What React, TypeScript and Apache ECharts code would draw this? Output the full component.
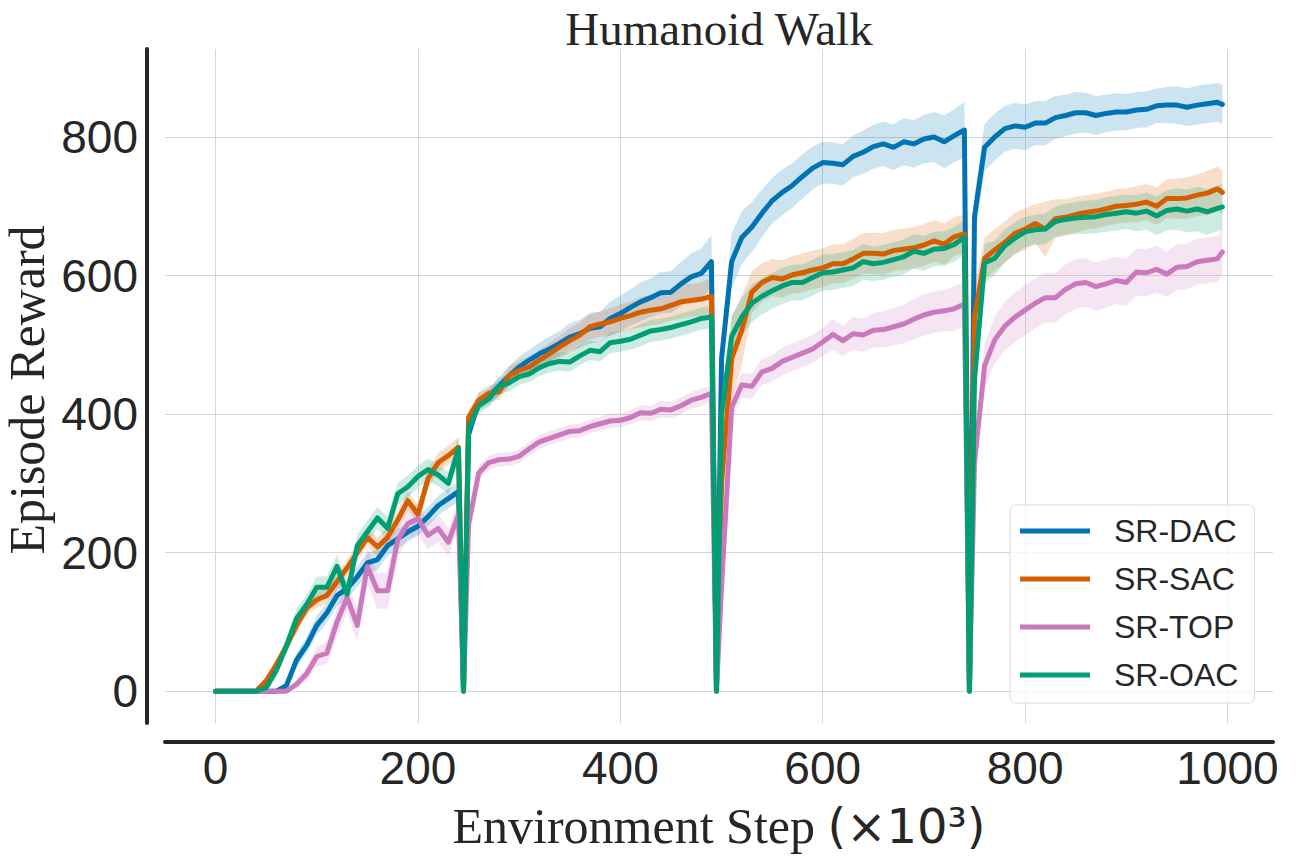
import React, { useEffect, useRef } from "react";
import * as echarts from "echarts";

const steps = [
  0, 10, 20, 30, 40, 50, 60, 70, 80, 90, 100, 110, 120, 130, 140, 150, 160, 170, 180, 190, 200, 210, 220, 230, 240, 245,
  250, 260, 270, 280, 290, 300, 310, 320, 330, 340, 350, 360, 370, 380, 390, 400, 410, 420, 430, 440, 450, 460, 470, 480, 490, 495,
  500, 510, 520, 530, 540, 550, 560, 570, 580, 590, 600, 610, 620, 630, 640, 650, 660, 670, 680, 690, 700, 710, 720, 730, 740, 745,
  750, 760, 770, 780, 790, 800, 810, 820, 830, 840, 850, 860, 870, 880, 890, 900, 910, 920, 930, 940, 950, 960, 970, 980, 990, 995,
];

const xTicks = [0, 200, 400, 600, 800, 1000];
const yTicks = [0, 200, 400, 600, 800];

const names = ["SR-DAC", "SR-SAC", "SR-TOP", "SR-OAC"];
const colors = ["#0173b2", "#d55e00", "#cc78bc", "#029e73"];

const dacMean = [
  0, 0, 0, 0, 0, 0, 0, 8, 45, 66, 95, 113, 138, 148, 165, 185, 190, 210, 220, 230, 238, 252, 268, 278, 288, 0,
  370, 418, 425, 440, 455, 468, 478, 487, 494, 502, 511, 516, 524, 526, 538, 545, 554, 562, 568, 575, 576, 588, 598, 603, 620, 0,
  480, 620, 655, 670, 690, 708, 720, 730, 743, 755, 763, 762, 760, 772, 778, 786, 790, 785, 793, 790, 797, 800, 793, 802, 810, 0,
  685, 785, 800, 812, 816, 814, 820, 820, 828, 831, 835, 835, 831, 834, 836, 836, 839, 840, 845, 846, 846, 843, 846, 848, 850, 847,
];
const dacBand = [
  0, 0, 0, 0, 0, 0, 0, 4, 10, 12, 14, 14, 15, 15, 15, 15, 15, 15, 14, 14, 14, 14, 14, 14, 14, 0,
  10, 12, 12, 14, 14, 15, 15, 16, 18, 18, 20, 20, 22, 22, 24, 26, 26, 28, 28, 30, 30, 32, 34, 36, 38, 0,
  25, 40, 38, 36, 34, 33, 33, 32, 32, 31, 30, 30, 30, 30, 31, 32, 32, 33, 34, 34, 35, 36, 38, 38, 40, 0,
  30, 34, 34, 33, 33, 33, 32, 32, 31, 30, 30, 29, 28, 27, 27, 26, 26, 26, 25, 26, 27, 27, 28, 28, 28, 28,
];

const sacMean = [
  0, 0, 0, 0, 0, 15, 38, 65, 95, 120, 132, 138, 158, 178, 200, 222, 208, 222, 247, 275, 255, 307, 330, 340, 352, 0,
  395, 420, 430, 432, 455, 463, 468, 478, 487, 497, 506, 514, 526, 530, 533, 538, 542, 547, 550, 552, 557, 562, 564, 566, 570, 0,
  300, 480, 521, 576, 590, 597, 595, 601, 604, 608, 611, 617, 617, 624, 632, 632, 631, 636, 638, 640, 644, 650, 645, 656, 660, 0,
  540, 625, 637, 648, 661, 667, 675, 667, 682, 684, 688, 691, 693, 696, 700, 701, 703, 706, 700, 711, 711, 712, 716, 719, 725, 720,
];
const sacBand = [
  0, 0, 0, 0, 0, 6, 8, 10, 10, 10, 12, 12, 12, 12, 12, 12, 14, 14, 14, 14, 14, 14, 14, 14, 14, 0,
  10, 12, 12, 12, 14, 14, 15, 15, 16, 16, 18, 18, 18, 18, 20, 20, 20, 22, 22, 22, 22, 24, 24, 24, 26, 0,
  60, 60, 50, 30, 28, 27, 27, 27, 28, 28, 28, 28, 28, 29, 29, 30, 30, 30, 30, 30, 30, 30, 30, 28, 28, 0,
  45, 30, 30, 30, 30, 30, 28, 40, 28, 26, 26, 25, 25, 25, 25, 25, 26, 26, 27, 28, 29, 30, 30, 32, 32, 32,
];

const topMean = [
  0, 0, 0, 0, 0, 0, 0, 0, 10, 25, 50, 55, 100, 135, 95, 180, 145, 145, 218, 242, 249, 225, 235, 215, 255, 0,
  240, 315, 330, 334, 335, 339, 350, 360, 365, 370, 375, 376, 382, 386, 390, 391, 395, 402, 401, 407, 406, 412, 420, 424, 430, 0,
  150, 410, 442, 440, 461, 466, 476, 482, 488, 494, 504, 515, 506, 516, 514, 521, 522, 526, 530, 537, 543, 547, 549, 552, 559, 0,
  330, 470, 507, 527, 540, 550, 560, 568, 568, 580, 588, 590, 584, 588, 593, 590, 605, 604, 609, 602, 612, 613, 620, 622, 624, 634,
];
const topBand = [
  0, 0, 0, 0, 0, 0, 0, 0, 6, 10, 14, 16, 20, 22, 24, 26, 26, 26, 24, 22, 22, 20, 20, 20, 20, 0,
  8, 10, 10, 10, 10, 10, 10, 10, 10, 10, 10, 10, 10, 10, 10, 10, 10, 11, 11, 12, 12, 12, 12, 12, 12, 0,
  20, 18, 18, 18, 19, 19, 20, 20, 20, 20, 20, 22, 22, 24, 24, 25, 26, 27, 28, 29, 30, 30, 30, 32, 32, 0,
  30, 32, 34, 35, 36, 36, 36, 36, 36, 36, 36, 35, 35, 35, 34, 34, 34, 34, 34, 33, 33, 33, 33, 33, 33, 33,
];

const oacMean = [
  0, 0, 0, 0, 0, 5, 30, 65, 105, 125, 150, 150, 180, 140, 210, 230, 250, 235, 285, 295, 310, 320, 312, 300, 350, 0,
  380, 412, 422, 440, 445, 454, 458, 467, 473, 476, 475, 484, 492, 490, 503, 505, 508, 514, 520, 522, 525, 529, 533, 538, 540, 0,
  400, 512, 540, 560, 570, 578, 585, 590, 590, 597, 604, 605, 608, 611, 620, 617, 619, 623, 627, 635, 632, 638, 639, 645, 655, 0,
  450, 618, 625, 643, 654, 663, 666, 667, 678, 681, 683, 684, 685, 688, 690, 692, 690, 693, 686, 694, 696, 693, 696, 692, 697, 699,
];
const oacBand = [
  0, 0, 0, 0, 0, 8, 10, 12, 14, 15, 15, 16, 16, 16, 16, 16, 16, 16, 16, 16, 16, 16, 16, 16, 18, 0,
  10, 12, 12, 12, 12, 12, 12, 12, 13, 13, 14, 14, 14, 14, 15, 15, 15, 16, 16, 16, 16, 16, 16, 16, 16, 0,
  30, 30, 28, 27, 26, 26, 26, 26, 26, 26, 26, 26, 26, 26, 26, 25, 25, 25, 25, 25, 25, 25, 25, 25, 25, 0,
  30, 28, 25, 24, 23, 22, 22, 22, 22, 23, 23, 24, 24, 25, 25, 25, 26, 27, 28, 29, 30, 31, 32, 33, 33, 33,
];

const means = [dacMean, sacMean, topMean, oacMean];
const bands = [dacBand, sacBand, topBand, oacBand];

const TEXT = "#262626";
const SANS = "Liberation Sans";
const SERIF = "Liberation Serif";

export default function App() {
  const ref = useRef<HTMLDivElement>(null);

  useEffect(() => {
    document.body.style.margin = "0";
    const chart = echarts.init(ref.current as HTMLDivElement, null, { renderer: "svg" });

    const bandSeries: any[] = [];
    const lineSeries: any[] = [];
    names.forEach((name, k) => {
      const m = means[k];
      const b = bands[k];
      const bandData = steps.map((x, i) => [x, m[i] - b[i], m[i] + b[i]]);
      bandSeries.push({
        type: "custom",
        name: name + " band",
        data: bandData,
        encode: { x: 0, y: [1, 2] },
        silent: true,
        z: 1,
        renderItem: (params: any, api: any) => {
          if (params.dataIndex !== 0) return null;
          const upper = bandData.map((d) => api.coord([d[0], d[2]]));
          const lower = bandData.map((d) => api.coord([d[0], d[1]])).reverse();
          return {
            type: "polygon",
            shape: { points: upper.concat(lower) },
            style: { fill: colors[k], opacity: 0.2, stroke: "none" },
          };
        },
      });
      lineSeries.push({
        type: "line",
        name,
        data: steps.map((x, i) => [x, m[i]]),
        symbol: "none",
        showSymbol: false,
        color: colors[k],
        itemStyle: { color: colors[k] },
        lineStyle: { width: 5, color: colors[k], join: "round", cap: "round" },
        z: 3 + k,
      });
    });

    const option: any = {
      animation: false,
      backgroundColor: "#ffffff",
      grid: { left: 165, right: 23, top: 49, bottom: 141, containLabel: false },
      xAxis: {
        type: "value",
        min: -50,
        max: 1045,
        offset: 19,
        axisLine: { show: true, onZero: false, lineStyle: { color: TEXT, width: 4 } },
        axisTick: { show: false, customValues: xTicks },
        axisLabel: {
          customValues: xTicks,
          formatter: (v: number) => String(v),
          fontSize: 46,
          fontFamily: SANS,
          color: TEXT,
          margin: 3,
        },
        splitLine: { show: true, lineStyle: { color: "#d6d6d6", width: 1 } },
      },
      yAxis: {
        type: "value",
        min: -46,
        max: 927,
        offset: 18,
        axisLine: { show: true, onZero: false, lineStyle: { color: TEXT, width: 4 } },
        axisTick: { show: false, customValues: yTicks },
        axisLabel: {
          customValues: yTicks,
          formatter: (v: number) => String(v),
          fontSize: 46,
          fontFamily: SANS,
          color: TEXT,
          margin: 9,
        },
        splitLine: { show: true, lineStyle: { color: "#d6d6d6", width: 1 } },
      },
      legend: {
        data: names,
        orient: "vertical",
        left: 1010,
        top: 505,
        icon: "rect",
        itemWidth: 70,
        itemHeight: 5,
        itemGap: 12,
        padding: [8, 16, 10, 10],
        borderColor: "#d9d9d9",
        borderWidth: 1,
        borderRadius: 6,
        backgroundColor: "rgba(255,255,255,0.8)",
        textStyle: { fontSize: 32, fontFamily: SANS, color: TEXT, lineHeight: 36, padding: [0, 0, 0, 19] },
      },
      graphic: [
        {
          type: "text",
          x: 719,
          y: 29,
          style: { text: "Humanoid Walk", font: `47px "${SERIF}"`, fill: TEXT, align: "center", verticalAlign: "middle" },
        },
        {
          type: "text",
          x: 719,
          y: 826,
          style: {
            text: "{a|Environment Step }{b|(×10³)}",
            align: "center",
            verticalAlign: "middle",
            rich: {
              a: { fontFamily: SERIF, fontSize: 50, fill: TEXT, color: TEXT },
              b: { fontFamily: "DejaVu Sans", fontSize: 48, fill: TEXT, color: TEXT },
            },
          },
        },
        {
          type: "text",
          x: 27,
          y: 390,
          rotation: Math.PI / 2,
          style: { text: "Episode Reward", font: `50px "${SERIF}"`, fill: TEXT, align: "center", verticalAlign: "middle" },
        },
      ],
      series: [...bandSeries, ...lineSeries],
    };

    chart.setOption(option);
    return () => chart.dispose();
  }, []);

  return <div ref={ref} style={{ width: 1296, height: 864, position: "absolute", left: 0, top: 0 }} />;
}
